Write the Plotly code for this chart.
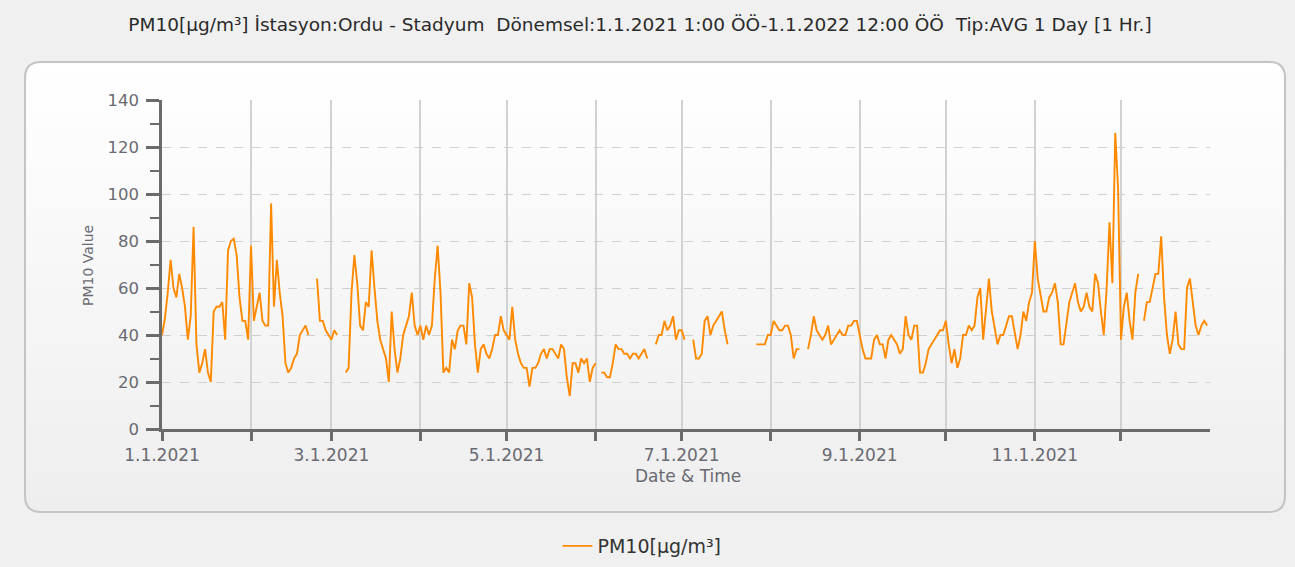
import plotly.graph_objects as go
import pandas as pd

N = None
# Daily PM10 averages (1.1.2021 .. 31.12.2021), None = missing
pm10 = [
    40, 47, 58, 72, 60, 56, 66, 60, 52, 38, 48, 86, 36, 24, 28, 34, 24, 20, 50, 52,
    52, 54, 38, 76, 80, 81, 74, 56, 46, 46, 38, 78, 46, 52, 58, 46, 44, 44, 96, 52,
    72, 58, 48, 28, 24, 26, 30, 32, 40, 42, 44, 40, N, N, 64, 46, 46, 42, 40, 38,
    42, 40, N, N, 24, 26, 58, 74, 62, 44, 42, 54, 52, 76, 60, 46, 38, 34, 30, 20,
    50, 34, 24, 30, 40, 44, 48, 58, 44, 40, 44, 38, 44, 40, 44, 64, 78, 58, 24, 26,
    24, 38, 34, 42, 44, 44, 36, 62, 56, 36, 24, 34, 36, 32, 30, 34, 40, 40, 48, 42,
    40, 38, 52, 38, 32, 28, 26, 26, 18, 26, 26, 28, 32, 34, 30, 34, 34, 32, 30, 36,
    34, 22, 14, 28, 28, 24, 30, 28, 30, 20, 26, 28, N, 24, 24, 22, 22, 28, 36, 34,
    34, 32, 32, 30, 32, 32, 30, 32, 34, 30, N, N, 36, 40, 40, 46, 42, 44, 48, 38,
    42, 42, 38, N, N, 38, 30, 30, 32, 46, 48, 40, 44, 46, 48, 50, 42, 36, N, N,
    N, N, N, N, N, N, N, 36, 36, 36, 36, 40, 40, 46, 44, 42, 42, 44, 44, 40,
    30, 34, 34, N, N, 34, 40, 48, 42, 40, 38, 40, 44, 36, 38, 40, 42, 40, 40, 44,
    44, 46, 46, 40, 34, 30, 30, 30, 38, 40, 36, 36, 30, 38, 40, 38, 36, 32, 34, 48,
    40, 38, 44, 44, 24, 24, 28, 34, 36, 38, 40, 42, 42, 46, 36, 28, 34, 26, 30, 40,
    40, 44, 42, 44, 56, 60, 38, 50, 64, 50, 42, 36, 40, 40, 44, 48, 48, 40, 34, 40,
    50, 46, 54, 58, 80, 64, 56, 50, 50, 56, 58, 62, 54, 36, 36, 44, 54, 58, 62, 54,
    50, 52, 58, 52, 50, 66, 62, 50, 40, 60, 88, 62, 126, 102, 38, 52, 58, 46, 38, 58,
    66, N, 46, 54, 54, 60, 66, 66, 82, 56, 40, 32, 38, 50, 36, 34, 34, 60, 64, 54,
    44, 40, 44, 46, 44,
]
dates = pd.date_range("2021-01-01", periods=len(pm10), freq="D")

month_ticks = pd.date_range("2021-01-01", "2021-12-01", freq="MS")
month_labels = ["1.1.2021", "", "3.1.2021", "", "5.1.2021", "", "7.1.2021", "",
                "9.1.2021", "", "11.1.2021", ""]
y_ticks = [0, 20, 40, 60, 80, 100, 120, 140]

title_text = ("PM10[µg/m³] İstasyon:Ordu - Stadyum  Dönemsel:1.1.2021 1:00 ÖÖ-1.1.2022 12:00 ÖÖ  "
              "Tip:AVG 1 Day [1 Hr.]")

W, H = 1295, 567
# ---- pixel helpers for decoration (plot area 162..1210 x, 100..429 y) ----
PL, PR, PT, PB = 162, 1210, 100, 429
def px(x):
    return (x - PL) / (PR - PL)
def py(y):
    return (PB - y) / (PB - PT)

shapes = []
X0, X1, Y0, Y1, R = 25, 1285, 62, 512, 16

def rounded_path(x0, x1, y0, y1, r, top=True, bottom=True):
    p = []
    if top:
        p.append(f"M {px(x0)} {py(y0 + r)}")
        p.append(f"Q {px(x0)} {py(y0)} {px(x0 + r)} {py(y0)}")
        p.append(f"L {px(x1 - r)} {py(y0)}")
        p.append(f"Q {px(x1)} {py(y0)} {px(x1)} {py(y0 + r)}")
    else:
        p.append(f"M {px(x0)} {py(y0)}")
        p.append(f"L {px(x1)} {py(y0)}")
    if bottom:
        p.append(f"L {px(x1)} {py(y1 - r)}")
        p.append(f"Q {px(x1)} {py(y1)} {px(x1 - r)} {py(y1)}")
        p.append(f"L {px(x0 + r)} {py(y1)}")
        p.append(f"Q {px(x0)} {py(y1)} {px(x0)} {py(y1 - r)}")
    else:
        p.append(f"L {px(x1)} {py(y1)}")
        p.append(f"L {px(x0)} {py(y1)}")
    p.append("Z")
    return " ".join(p)

top_c = (255, 255, 255)
bot_c = (238, 238, 238)
def mix(t):
    return "rgb(%d,%d,%d)" % tuple(round(a + (b - a) * t) for a, b in zip(top_c, bot_c))

shapes.append(dict(type="path", xref="paper", yref="paper", layer="below",
                   path=rounded_path(X0, X1, Y0, Y1, R), fillcolor=mix(1.0), line=dict(width=0)))
shapes.append(dict(type="path", xref="paper", yref="paper", layer="below",
                   path=rounded_path(X0, X1, Y0, Y0 + R + 1, R, top=True, bottom=False),
                   fillcolor=mix(0.0), line=dict(width=0)))
nb = 40
h = (Y1 - R - (Y0 + R)) / nb
for i in range(nb):
    ya = Y0 + R + i * h
    yb = ya + h + 0.6
    shapes.append(dict(type="rect", xref="paper", yref="paper", layer="below",
                       x0=px(X0), x1=px(X1), y0=py(ya), y1=py(yb),
                       fillcolor=mix((ya - Y0) / (Y1 - Y0)), line=dict(width=0)))
shapes.append(dict(type="path", xref="paper", yref="paper", layer="below",
                   path=rounded_path(X0, X1, Y0, Y1, R), fillcolor="rgba(0,0,0,0)",
                   line=dict(color="#c4c4c4", width=2)))

fig = go.Figure()
fig.add_trace(go.Scatter(
    x=dates, y=pm10, mode="lines", name="PM10[µg/m³]",
    line=dict(color="#ff8a00", width=1.9), connectgaps=False,
))

axis_font = dict(family="DejaVu Sans", size=17, color="#6a6a72")
yaxis_font = dict(family="DejaVu Sans", size=16.5, color="#6a6a72")

fig.update_layout(
    width=W, height=H,
    margin=dict(l=PL, r=W - PR, t=PT, b=H - PB, autoexpand=False),
    paper_bgcolor="#f0f0f0",
    plot_bgcolor="rgba(0,0,0,0)",
    title=dict(text=title_text, x=640 / W, xanchor="center", y=1 - 25 / H, yanchor="middle",
               font=dict(family="DejaVu Sans", size=18.5, color="#2a2a2a")),
    showlegend=True,
    legend=dict(orientation="h", xref="container", yref="container",
                x=642 / W, xanchor="center", y=1 - 546 / H, yanchor="middle",
                font=dict(family="DejaVu Sans", size=19, color="#333333"),
                bgcolor="rgba(0,0,0,0)"),
    shapes=shapes,
    xaxis=dict(
        range=["2021-01-01", "2022-01-01"],
        tickmode="array", tickvals=month_ticks, ticktext=month_labels,
        showgrid=True, gridcolor="#d2d2d2", gridwidth=1.5,
        showline=True, linecolor="#6b6b6b", linewidth=2.5,
        ticks="outside", ticklen=9, tickwidth=2.5, tickcolor="#6b6b6b",
        tickfont=axis_font, zeroline=False,
    ),
    yaxis=dict(
        range=[0, 140], tickmode="array", tickvals=y_ticks,
        showgrid=True, gridcolor="#d0d0d0", gridwidth=1, griddash="dash",
        showline=True, linecolor="#6b6b6b", linewidth=2.5,
        ticks="outside", ticklen=13, tickwidth=2.5, tickcolor="#6b6b6b",
        minor=dict(dtick=10, tick0=0, ticks="outside", ticklen=9, tickwidth=2,
                   tickcolor="#6b6b6b", showgrid=False),
        tickfont=yaxis_font, zeroline=False, ticklabelstandoff=4,
    ),
    annotations=[
        dict(text="Date & Time", xref="paper", yref="paper", x=px(688), y=py(476),
             xanchor="center", yanchor="middle", showarrow=False,
             font=dict(family="DejaVu Sans", size=17, color="#6a6a72")),
        dict(text="PM10 Value", xref="paper", yref="paper", x=px(88), y=py(266),
             xanchor="center", yanchor="middle", showarrow=False, textangle=-90,
             font=dict(family="DejaVu Sans", size=14, color="#6a6a72")),
    ],
)

fig.write_html(
    "out.html",
    config={"displayModeBar": False},
    post_script="document.body.style.margin='0';document.body.style.background='#f0f0f0';",
)
